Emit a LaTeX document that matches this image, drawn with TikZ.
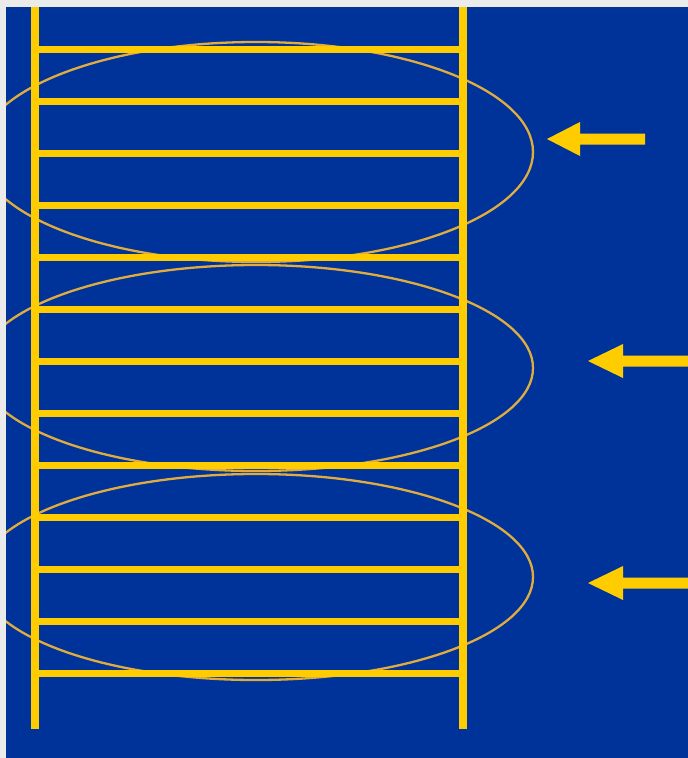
\documentclass[tikz,border=0pt]{standalone}
\definecolor{bgray}{RGB}{235,235,235}
\definecolor{eblue}{RGB}{0,51,153}
\definecolor{eyellow}{RGB}{255,204,0}
\definecolor{etan}{RGB}{224,172,64}
\begin{document}
\begin{tikzpicture}[x=1pt,y=-1pt,
  rail/.style={draw=eyellow,line width=8pt},
  rung/.style={draw=eyellow,line width=7.5pt},
  loop/.style={draw=etan,line width=2.3pt},
  arrowshape/.style={fill=eyellow,draw=none}]
\useasboundingbox (0,0) rectangle (688,758);
\fill[bgray] (0,0) rectangle (688,758);
\fill[eblue] (6,7) rectangle (688,758);
\begin{scope}
\clip (6,7) rectangle (688,758);
\draw[loop] (256,152) ellipse [x radius=277, y radius=110];
\draw[loop] (256,368) ellipse [x radius=277, y radius=103];
\draw[loop] (256,577) ellipse [x radius=277, y radius=103];
\end{scope}
\foreach \y in {49.5,101.5,153.5,205.5,257.5,309.5,361.5,413.5,465.5,517.5,569.5,621.5,673.5}
  \draw[rung] (35,\y) -- (463,\y);
\draw[rail] (35,7) -- (35,729);
\draw[rail] (463,7) -- (463,729);
\fill[arrowshape] (547,139) -- (580,122) -- (580,133.5) -- (645,133.5) -- (645,144.5) -- (580,144.5) -- (580,156) -- cycle;
\fill[arrowshape] (588,361) -- (623,344) -- (623,355.5) -- (688,355.5) -- (688,366.5) -- (623,366.5) -- (623,378) -- cycle;
\fill[arrowshape] (588,583) -- (623,566) -- (623,577.5) -- (688,577.5) -- (688,588.5) -- (623,588.5) -- (623,600) -- cycle;
\end{tikzpicture}
\end{document}
